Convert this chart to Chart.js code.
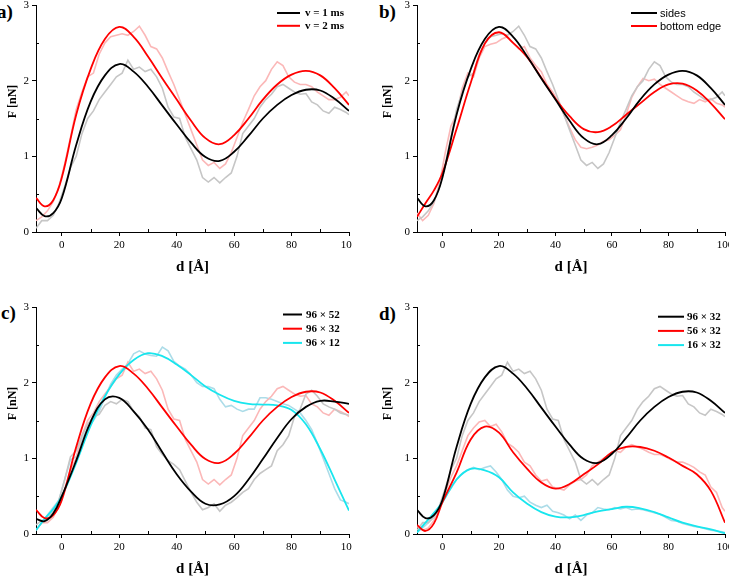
<!DOCTYPE html>
<html>
<head>
<meta charset="utf-8">
<script src="https://cdn.jsdelivr.net/npm/chart.js@4.4.0/dist/chart.umd.min.js"></script>
<style>
  html, body { margin:0; padding:0; background:#fff; }
  body { width:729px; height:576px; position:relative; overflow:hidden; }
  .clip { position:absolute; overflow:hidden; }
  .clip canvas { position:absolute; }
  .tag { position:absolute; font:bold 19px "Liberation Serif", serif; line-height:20px; color:#000; }
</style>
</head>
<body>
<div class="tag" style="left:-3px;top:2px">a)</div>
<div class="tag" style="left:379px;top:2px">b)</div>
<div class="tag" style="left:1px;top:303px">c)</div>
<div class="tag" style="left:379px;top:304px">d)</div>
<script>
// x grid of the fitted (smooth) curves
let dFit = [-9, -6, -3, 0, 5, 10, 15, 20, 25, 30, 35, 40, 45, 50, 55, 60, 65, 70, 75, 80, 85, 90, 95, 100];
// x grid of the raw (noisy) curves
let dRaw = [-9, -7, -5, -3, -1, 1, 3, 5, 7, 9, 11, 13, 15, 17, 19, 21, 23, 25, 27, 29, 31, 33, 35, 37, 39,
  41, 43, 45, 47, 49, 51, 53, 55, 57, 59, 61, 63, 65, 67, 69, 71, 73, 75, 77, 79, 81, 83, 85, 87, 89,
  91, 93, 95, 97, 99, 100];

// v = 1 ms  (same run as 96 x 32)
let fit1ms = [0.32, 0.21, 0.25, 0.45, 1.15, 1.72, 2.07, 2.22, 2.12, 1.92, 1.67, 1.42, 1.18, 0.99, 0.94, 1.06, 1.27, 1.5, 1.68, 1.81, 1.88, 1.87, 1.76, 1.6];
let raw1ms = [0.05, 0.15, 0.15, 0.22, 0.38, 0.6, 0.85, 1.0, 1.3, 1.5, 1.6, 1.75, 1.85, 1.95, 2.05, 2.1, 2.27, 2.15, 2.18, 2.12,
  2.15, 2.05, 1.9, 1.65, 1.52, 1.5, 1.25, 1.1, 0.95, 0.72, 0.66, 0.72, 0.65, 0.72, 0.78, 1.0, 1.3, 1.4, 1.5, 1.65,
  1.75, 1.82, 1.92, 1.95, 1.9, 1.85, 1.82, 1.83, 1.72, 1.68, 1.6, 1.57, 1.65, 1.62, 1.58, 1.55];
// v = 2 ms  (same run as "sides")
let fit2ms = [0.45, 0.34, 0.42, 0.72, 1.55, 2.15, 2.55, 2.71, 2.58, 2.32, 2.03, 1.75, 1.47, 1.24, 1.16, 1.28, 1.5, 1.75, 1.95, 2.08, 2.13, 2.07, 1.9, 1.68];
let raw2ms = [0.15, 0.2, 0.28, 0.4, 0.6, 0.9, 1.25, 1.62, 1.85, 2.05, 2.1, 2.35, 2.5, 2.58, 2.6, 2.62, 2.6, 2.65, 2.72, 2.6,
  2.45, 2.42, 2.3, 2.12, 1.95, 1.75, 1.55, 1.35, 1.15, 0.95, 0.88, 0.92, 0.84, 0.9, 1.05, 1.25, 1.45, 1.62, 1.8, 1.92,
  2.0, 2.15, 2.25, 2.2, 2.05, 1.98, 1.95, 1.95, 1.92, 1.85, 1.8, 1.75, 1.75, 1.78, 1.85, 1.8];
// bottom edge
let fitBottom = [0.2, 0.38, 0.55, 0.78, 1.36, 1.97, 2.49, 2.64, 2.5, 2.31, 2.04, 1.76, 1.53, 1.36, 1.32, 1.4, 1.55, 1.7, 1.85, 1.95, 1.96, 1.87, 1.7, 1.49];
let rawBottom = [0.25, 0.15, 0.22, 0.38, 0.65, 1.05, 1.4, 1.55, 1.9, 2.1, 2.05, 2.3, 2.45, 2.48, 2.5, 2.55, 2.58, 2.5, 2.42, 2.45,
  2.3, 2.2, 2.12, 1.95, 1.85, 1.72, 1.55, 1.38, 1.22, 1.12, 1.1, 1.12, 1.15, 1.2, 1.22, 1.28, 1.35, 1.55, 1.78, 1.92,
  2.03, 2.0, 2.02, 1.95, 1.9, 1.85, 1.8, 1.75, 1.72, 1.7, 1.75, 1.72, 1.76, 1.7, 1.68, 1.65];
// 96 x 52
let fit96x52 = [0.2, 0.17, 0.27, 0.5, 0.97, 1.48, 1.78, 1.8, 1.62, 1.38, 1.08, 0.79, 0.56, 0.4, 0.39, 0.5, 0.72, 0.99, 1.27, 1.52, 1.68, 1.76, 1.75, 1.72];
let raw96x52 = [0.12, 0.18, 0.2, 0.3, 0.45, 0.72, 1.02, 1.1, 1.3, 1.45, 1.55, 1.58, 1.7, 1.75, 1.72, 1.78, 1.75, 1.62, 1.55, 1.4,
  1.38, 1.15, 1.05, 0.97, 0.92, 0.85, 0.7, 0.55, 0.42, 0.32, 0.35, 0.4, 0.3, 0.38, 0.42, 0.48, 0.55, 0.6, 0.72, 0.8,
  0.85, 0.9, 1.1, 1.18, 1.3, 1.55, 1.65, 1.85, 1.9, 1.82, 1.72, 1.68, 1.65, 1.6, 1.58, 1.57];
// 96 x 12
let fit96x12 = [0.05, 0.2, 0.33, 0.5, 0.94, 1.43, 1.82, 2.11, 2.3, 2.39, 2.35, 2.24, 2.1, 1.95, 1.84, 1.76, 1.72, 1.71, 1.7, 1.64, 1.45, 1.12, 0.72, 0.31];
let raw96x12 = [0.05, 0.15, 0.25, 0.35, 0.45, 0.72, 0.98, 1.02, 1.25, 1.4, 1.5, 1.62, 1.8, 1.98, 2.1, 2.18, 2.25, 2.38, 2.42, 2.38,
  2.36, 2.35, 2.47, 2.42, 2.28, 2.22, 2.18, 2.1, 2.0, 1.95, 1.95, 1.92, 1.78, 1.68, 1.7, 1.65, 1.62, 1.65, 1.65, 1.8,
  1.8, 1.78, 1.75, 1.72, 1.7, 1.65, 1.6, 1.5, 1.38, 1.2, 1.0, 0.8, 0.6, 0.45, 0.42, 0.4];
// 56 x 32
let fit56x32 = [0.12, 0.04, 0.14, 0.42, 0.81, 1.25, 1.42, 1.34, 1.08, 0.86, 0.68, 0.6, 0.66, 0.79, 0.92, 1.08, 1.15, 1.15, 1.1, 1.01, 0.9, 0.79, 0.57, 0.15];
let raw56x32 = [0.1, 0.05, 0.08, 0.18, 0.35, 0.55, 0.75, 0.9, 1.1, 1.3, 1.4, 1.48, 1.5, 1.42, 1.45, 1.35, 1.2, 1.15, 1.08, 0.95,
  0.9, 0.78, 0.7, 0.72, 0.62, 0.6, 0.58, 0.65, 0.7, 0.72, 0.78, 0.9, 0.95, 1.0, 1.05, 1.1, 1.08, 1.15, 1.18, 1.15,
  1.12, 1.08, 1.05, 1.05, 1.02, 0.98, 0.95, 0.95, 0.92, 0.88, 0.82, 0.78, 0.62, 0.55, 0.35, 0.3];
// 16 x 32
let fit16x32 = [0.02, 0.15, 0.28, 0.42, 0.72, 0.86, 0.84, 0.75, 0.55, 0.4, 0.29, 0.23, 0.22, 0.25, 0.3, 0.33, 0.36, 0.34, 0.29, 0.22, 0.15, 0.1, 0.06, 0.01];
let raw16x32 = [0.02, 0.08, 0.15, 0.25, 0.35, 0.5, 0.6, 0.72, 0.8, 0.85, 0.88, 0.85, 0.88, 0.9, 0.82, 0.72, 0.58, 0.5, 0.48, 0.5,
  0.42, 0.38, 0.35, 0.38, 0.3, 0.28, 0.25, 0.2, 0.25, 0.18, 0.25, 0.28, 0.35, 0.33, 0.32, 0.35, 0.33, 0.35, 0.32, 0.33,
  0.32, 0.3, 0.28, 0.26, 0.22, 0.18, 0.17, 0.14, 0.12, 0.1, 0.09, 0.07, 0.05, 0.04, 0.03, 0.02];

let xTicks = [0, 20, 40, 60, 80, 100];
let xMinor = [10, 30, 50, 70, 90];
let yTicks = [0, 1, 2, 3];
let yMinor = [0.5, 1.5, 2.5];

const BLACK = '#000000', RED = '#ff0000', CYAN = '#18e6ee';
const GRAY = '#c6c6c6', PINK = '#fbb8b8', LIGHTBLUE = '#acdce8';

function fit(label, ys, color) {
  return { label: label, data: dFit.map((d, i) => ({x: d, y: ys[i]})), borderColor: color,
    borderWidth: 1.8, tension: 0.4, pointRadius: 0, order: 0 };
}
function raw(ys, color) {
  return { label: '', data: dRaw.map((d, i) => ({x: d, y: ys[i]})), borderColor: color,
    borderWidth: 1.6, tension: 0, pointRadius: 0, order: 1 };
}

// legend, y title and inward minor ticks
const extras = {
  id: 'extras',
  afterDraw(chart, args, o) {
    const ctx = chart.ctx;
    const xs = chart.scales.x, ys = chart.scales.y;
    ctx.save();
    // minor ticks, short and pointing into the plot
    ctx.strokeStyle = '#000';
    ctx.lineWidth = 1;
    ctx.beginPath();
    xMinor.forEach(v => {
      const px = Math.round(xs.getPixelForValue(v)) + 0.5;
      ctx.moveTo(px, xs.top); ctx.lineTo(px, xs.top - 3);
    });
    yMinor.forEach(v => {
      const py = Math.round(ys.getPixelForValue(v)) + 0.5;
      ctx.moveTo(ys.right, py); ctx.lineTo(ys.right + 3, py);
    });
    ctx.stroke();

    // y title, sits a bit above the middle of the axis
    ctx.font = 'bold 12px "Liberation Serif"';
    ctx.fillStyle = '#000';
    ctx.textAlign = 'center';
    ctx.textBaseline = 'middle';
    ctx.save();
    ctx.translate(o.titleX - o.ox, (ys.top + ys.bottom) / 2 - 17);
    ctx.rotate(-Math.PI / 2);
    ctx.fillText('F [nN]', 0, 0);
    ctx.restore();

    // legend: line sample + text
    ctx.font = o.font;
    ctx.textAlign = 'left';
    let row = 0;
    chart.data.datasets.forEach(ds => {
      if (!ds.label) return;
      const y = o.y + row * o.dy - o.oy;
      ctx.strokeStyle = ds.borderColor;
      ctx.lineWidth = 2;
      ctx.beginPath();
      ctx.moveTo(o.x0 - o.ox, y);
      ctx.lineTo(o.x1 - o.ox, y);
      ctx.stroke();
      ctx.fillText(ds.label, o.tx - o.ox, y + 0.5);
      row++;
    });
    ctx.restore();
  }
};

function makePanel(p) {
  const cl = p.clip;
  const wrap = document.createElement('div');
  wrap.className = 'clip';
  wrap.style.left = cl[0] + 'px'; wrap.style.top = cl[1] + 'px';
  wrap.style.width = cl[2] + 'px'; wrap.style.height = cl[3] + 'px';
  const cx = p.left - p.axisW, cy = p.top - 20;
  const cw = p.right + 25 - cx, ch = p.bottom + 50 - cy;
  const cv = document.createElement('canvas');
  cv.width = cw; cv.height = ch;
  cv.style.width = cw + 'px'; cv.style.height = ch + 'px';
  cv.style.left = (cx - cl[0]) + 'px'; cv.style.top = (cy - cl[1]) + 'px';
  wrap.appendChild(cv);
  document.body.appendChild(wrap);

  const opts = Object.assign({ ox: cx, oy: cy, titleX: p.titleX }, p.legend);
  new Chart(cv.getContext('2d'), {
    type: 'line',
    data: { datasets: p.datasets },
    options: {
      responsive: false,
      animation: false,
      devicePixelRatio: 1,
      layout: { padding: { left: 0, top: 20, right: 25, bottom: 5 } },
      plugins: { legend: { display: false }, tooltip: { enabled: false }, extras: opts },
      scales: {
        x: {
          type: 'linear', min: -9, max: 100,
          afterFit: s => { s.height = 45; },
          border: { color: '#000', width: 1 },
          grid: { drawOnChartArea: false, tickLength: 4,
            tickColor: c => xTicks.includes(c.tick && c.tick.value) ? '#000' : 'rgba(0,0,0,0)' },
          ticks: { stepSize: 10, includeBounds: false, autoSkip: false, maxRotation: 0, padding: 3, color: '#000',
            font: { family: 'Liberation Serif', size: 11 },
            callback: v => xTicks.includes(v) ? String(v) : '' },
          title: { display: true, text: 'd [Å]', color: '#000', padding: { top: 0, bottom: 1 },
            font: { family: 'Liberation Serif', size: 15, weight: 'bold' } }
        },
        y: {
          min: 0, max: 3,
          afterFit: s => { s.width = p.axisW; },
          border: { color: '#000', width: 1 },
          grid: { drawOnChartArea: false, tickLength: 4,
            tickColor: c => yTicks.includes(c.tick && c.tick.value) ? '#000' : 'rgba(0,0,0,0)' },
          ticks: { stepSize: 0.5, includeBounds: false, autoSkip: false, padding: 3, color: '#000',
            font: { family: 'Liberation Serif', size: 11 },
            callback: v => yTicks.includes(v) ? String(v) : '' }
        }
      }
    },
    plugins: [extras]
  });
}

const serifLeg = 'bold 11px "Liberation Serif"';

makePanel({
  left: 36, right: 349, top: 5, bottom: 232, axisW: 36, titleX: 13, clip: [0, 0, 352, 288],
  legend: { x0: 277, x1: 300, tx: 305, y: 13, dy: 12.8, font: serifLeg },
  datasets: [fit('v = 1 ms', fit1ms, BLACK), fit('v = 2 ms', fit2ms, RED),
    raw(raw1ms, GRAY), raw(raw2ms, PINK)]
});
makePanel({
  left: 417, right: 725, top: 5, bottom: 232, axisW: 41, titleX: 388, clip: [364, 0, 365, 288],
  legend: { x0: 631, x1: 657, tx: 660, y: 13, dy: 13, font: '11px "Liberation Sans"' },
  datasets: [fit('sides', fit2ms, BLACK), fit('bottom edge', fitBottom, RED),
    raw(raw2ms, GRAY), raw(rawBottom, PINK)]
});
makePanel({
  left: 36, right: 349, top: 307, bottom: 534, axisW: 36, titleX: 13, clip: [0, 288, 352, 288],
  legend: { x0: 283, x1: 302, tx: 306, y: 314.5, dy: 14.2, font: serifLeg },
  datasets: [fit('96 \u00d7 52', fit96x52, BLACK), fit('96 \u00d7 32', fit1ms, RED), fit('96 \u00d7 12', fit96x12, CYAN),
    raw(raw96x52, GRAY), raw(raw1ms, PINK), raw(raw96x12, LIGHTBLUE)]
});
makePanel({
  left: 417, right: 725, top: 307, bottom: 534, axisW: 41, titleX: 388, clip: [364, 288, 365, 288],
  legend: { x0: 658, x1: 684, tx: 687, y: 316.7, dy: 14.2, font: serifLeg },
  datasets: [fit('96 \u00d7 32', fit1ms, BLACK), fit('56 \u00d7 32', fit56x32, RED), fit('16 \u00d7 32', fit16x32, CYAN),
    raw(raw1ms, GRAY), raw(raw56x32, PINK), raw(raw16x32, LIGHTBLUE)]
});
</script>
</body>
</html>
